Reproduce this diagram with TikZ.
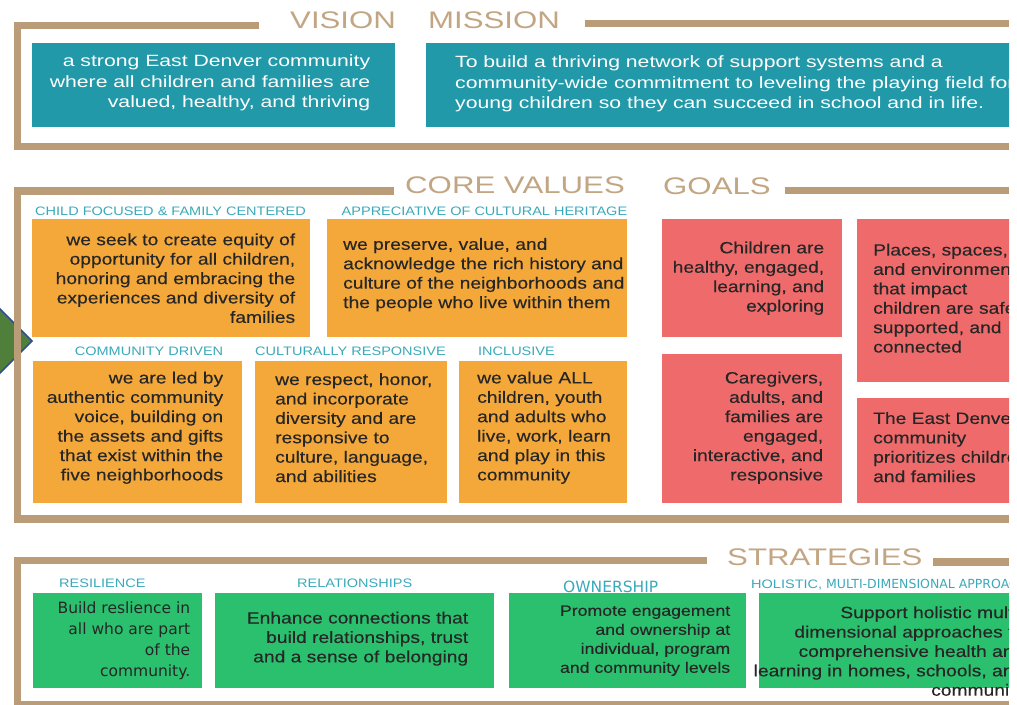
\documentclass[tikz,border=0pt]{standalone}
\usepackage{fontspec}
\usepackage{xcolor}
\setmainfont{Liberation Sans}
\newfontfamily\widefont[FakeStretch=1.3]{Liberation Sans}
\newfontfamily\midfont[FakeStretch=1.18]{Liberation Sans}
\newfontfamily\inkfont[FakeStretch=1.18, FakeBold=0.3]{Liberation Sans}
\newfontfamily\verdfont{DejaVu Sans}
\definecolor{tanline}{HTML}{BB9C78}
\definecolor{tanhead}{HTML}{C2A683}
\definecolor{vmteal}{HTML}{2199A9}
\definecolor{lblteal}{HTML}{3AA9BA}
\definecolor{cvorange}{HTML}{F4A83A}
\definecolor{goalpink}{HTML}{EF6A6B}
\definecolor{stratgreen}{HTML}{2BC06E}
\definecolor{diagreen}{HTML}{4F7F3B}
\definecolor{diablue}{HTML}{2F4F8F}
\definecolor{inktext}{HTML}{262626}

\begin{document}
\begin{tikzpicture}[x=1pt, y=-1pt,
    frame/.style={draw=tanline, line width=7.5pt},
    heading/.style={text=tanhead, font=\widefont\fontsize{24}{28}\selectfont, inner sep=0pt, anchor=west},
    panel/.style={rectangle, anchor=north west, inner sep=0pt},
    lbl/.style={text=lblteal, font=\midfont\fontsize{12.3}{14}\selectfont, inner sep=0pt},
    whitetxt/.style={text=white, font=\widefont\fontsize{16.3}{20.5}\selectfont, inner sep=0pt},
    darktxt/.style={text=inktext, font=\inkfont\fontsize{16.3}{19.4}\selectfont, inner sep=0pt}]
  \useasboundingbox (0,0) rectangle (1017,704);
  \clip (0,0) rectangle (1009,704);

  % arrow tip on the left
  \filldraw[fill=diagreen, draw=diablue, line width=1.5pt] (32,341) -- (-30,279) -- (-92,341) -- (-30,403) -- cycle;

  % headings
  \node[heading] (vis) at (290,20) {VISION};
  \node[heading] (mis) at (428,20) {MISSION};
  \node[heading] (core) at (405,185) {CORE VALUES};
  \node[heading] (goals) at (663,186) {GOALS};
  \node[heading] (strat) at (727,557) {STRATEGIES};

  % frames
  \draw[frame] (259,25.5) -- (17.5,25.5) -- (17.5,146.5) -- (1009,146.5);
  \draw[frame] (585,23.5) -- (1009,23.5);
  \draw[frame] (394,191) -- (17.5,191) -- (17.5,519) -- (1009,519);
  \draw[frame] (785,190.5) -- (1009,190.5);
  \draw[frame] (707,560.5) -- (17.5,560.5) -- (17.5,704.5) -- (1009,704.5);
  \draw[frame] (933,562) -- (1009,562);

  % vision and mission
  \node[panel, fill=vmteal, minimum width=363pt, minimum height=84pt] (vbox) at (32,43) {};
  \node[panel, fill=vmteal, minimum width=620pt, minimum height=84pt] (mbox) at (426,43) {};
  \node[whitetxt, anchor=east, align=right] (vtxt) at ([xshift=-25pt, yshift=2pt]vbox.east)
    {a strong East Denver community\\ where all children and families are\\ valued, healthy, and thriving};
  \node[whitetxt, anchor=west, align=left] (mtxt) at ([xshift=29pt, yshift=1pt]mbox.west)
    {To build a thriving network of support systems and a\\ community-wide commitment to leveling the playing field for\\ young children so they can succeed in school and in life.};

  % core values
  \node[panel, fill=cvorange, minimum width=278pt, minimum height=118pt] (cf) at (32,219) {};
  \node[panel, fill=cvorange, minimum width=300pt, minimum height=118pt] (ap) at (327,219) {};
  \node[panel, fill=cvorange, minimum width=209pt, minimum height=142pt] (cd) at (33,361) {};
  \node[panel, fill=cvorange, minimum width=192pt, minimum height=142pt] (cr) at (255,361) {};
  \node[panel, fill=cvorange, minimum width=168pt, minimum height=142pt] (inc) at (459,361) {};

  \node[lbl, anchor=base west] (cflbl) at ([xshift=3pt, yshift=4pt]cf.north west) {CHILD FOCUSED \& FAMILY CENTERED};
  \node[lbl, anchor=base east] (aplbl) at ([yshift=4pt]ap.north east) {APPRECIATIVE OF CULTURAL HERITAGE};
  \node[lbl, anchor=base east] (cdlbl) at ([xshift=-19pt, yshift=6pt]cd.north east) {COMMUNITY DRIVEN};
  \node[lbl, anchor=base west] (crlbl) at ([yshift=6pt]cr.north west) {CULTURALLY RESPONSIVE};
  \node[lbl, anchor=base west] (inclbl) at ([xshift=19pt, yshift=6pt]inc.north west) {INCLUSIVE};

  \node[darktxt, anchor=east, align=right] (cftxt) at ([xshift=-15pt]cf.east)
    {we seek to create equity of\\ opportunity for all children,\\ honoring and embracing the\\ experiences and diversity of\\ families};
  \node[darktxt, anchor=west, align=left] (aptxt) at ([xshift=16pt, yshift=3.5pt]ap.west)
    {we preserve, value, and\\ acknowledge the rich history and\\ culture of the neighborhoods and\\ the people who live within them};
  \node[darktxt, anchor=east, align=right] (cdtxt) at ([xshift=-19pt, yshift=4.5pt]cd.east)
    {we are led by\\ authentic community\\ voice, building on\\ the assets and gifts\\ that exist within the\\ five neighborhoods};
  \node[darktxt, anchor=west, align=left] (crtxt) at ([xshift=20pt, yshift=4.5pt]cr.west)
    {we respect, honor,\\ and incorporate\\ diversity and are\\ responsive to\\ culture, language,\\ and abilities};
  \node[darktxt, anchor=west, align=left] (inctxt) at ([xshift=18pt, yshift=4.5pt]inc.west)
    {we value ALL\\ children, youth\\ and adults who\\ live, work, learn\\ and play in this\\ community};

  % goals
  \node[panel, fill=goalpink, minimum width=180pt, minimum height=118pt] (g1) at (662,219) {};
  \node[panel, fill=goalpink, minimum width=180pt, minimum height=149pt] (g2) at (662,354) {};
  \node[panel, fill=goalpink, minimum width=180pt, minimum height=163pt] (g3) at (857,219) {};
  \node[panel, fill=goalpink, minimum width=180pt, minimum height=105pt] (g4) at (857,398) {};
  \node[darktxt, anchor=east, align=right] (g1txt) at ([xshift=-18pt]g1.east)
    {Children are\\ healthy, engaged,\\ learning, and\\ exploring};
  \node[darktxt, anchor=east, align=right] (g2txt) at ([xshift=-19pt, yshift=1pt]g2.east)
    {Caregivers,\\ adults, and\\ families are\\ engaged,\\ interactive, and\\ responsive};
  \node[darktxt, anchor=west, align=left] (g3txt) at ([xshift=16pt, yshift=2.5pt]g3.west)
    {Places, spaces,\\ and environments\\ that impact\\ children are safe,\\ supported, and\\ connected};
  \node[darktxt, anchor=west, align=left] (g4txt) at ([xshift=16pt, yshift=3.5pt]g4.west)
    {The East Denver\\ community\\ prioritizes children\\ and families};

  % strategies
  \node[panel, fill=stratgreen, minimum width=169pt, minimum height=95pt] (res) at (33,593) {};
  \node[panel, fill=stratgreen, minimum width=279pt, minimum height=95pt] (rel) at (215,593) {};
  \node[panel, fill=stratgreen, minimum width=237pt, minimum height=95pt] (own) at (509,593) {};
  \node[panel, fill=stratgreen, minimum width=280pt, minimum height=95pt] (hol) at (759,593) {};

  \node[lbl, anchor=base west] (reslbl) at ([xshift=26pt, yshift=6pt]res.north west) {RESILIENCE};
  \node[lbl, anchor=base] (rellbl) at ([yshift=6pt]rel.north) {RELATIONSHIPS};
  \node[lbl, anchor=base west, font=\verdfont\fontsize{15.5}{18}\selectfont] (ownlbl) at ([xshift=54pt, yshift=1pt]own.north west) {OWNERSHIP};
  \node[lbl, anchor=base west] (hollbl) at ([xshift=-8pt, yshift=5pt]hol.north west)
    {HOLISTIC, {\verdfont\fontsize{12.5}{14}\selectfont MULTI-DIMENSIONAL APPROACHES}};

  \node[darktxt, anchor=east, align=right, font=\verdfont\fontsize{15.5}{21}\selectfont] (restxt) at ([xshift=-12pt]res.east)
    {Build reslience in\\ all who are part\\ of the\\ community.};
  \node[darktxt, anchor=east, align=right] (reltxt) at ([xshift=-26pt, yshift=2pt]rel.east)
    {Enhance connections that\\ build relationships, trust\\ and a sense of belonging};
  \node[darktxt, anchor=east, align=right, font=\inkfont\fontsize{15}{19}\selectfont] (owntxt) at ([xshift=-16pt]own.east)
    {Promote engagement\\ and ownership at\\ individual, program\\ and community levels};
  \node[darktxt, anchor=east, align=right] (holtxt) at ([xshift=-15pt, yshift=-12pt]hol.east)
    {Support holistic multi-\\ dimensional approaches to\\ comprehensive health and\\ learning in homes, schools, and\\ community};
\end{tikzpicture}
\end{document}
